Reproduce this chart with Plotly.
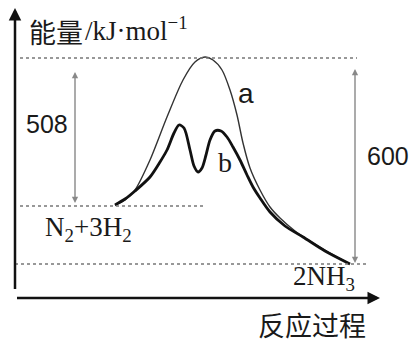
import plotly.graph_objects as go

W, H = 411, 343

# ---- data (chart units: x = reaction progress, y = energy level, schematic) ----
curve_a_x = [115, 125, 135, 150, 167, 183, 195, 205, 213, 222, 230, 237, 243, 250, 260, 270, 280, 295, 310, 330, 350]
curve_a_y = [138, 143, 153, 183, 226, 263, 281, 286, 283, 273, 253, 228, 200, 175, 153, 136, 125, 112, 102, 90, 79]

curve_b_x = [115, 125, 135, 150, 160, 167, 174, 179, 184, 190, 194, 198, 202, 206, 210, 215, 221, 227, 233, 240,
             247, 253, 260, 270, 285, 303, 325, 350]
curve_b_y = [138, 144, 152, 166, 181, 193, 210, 218, 215, 193, 177, 171, 175, 188, 203, 212, 212, 206, 196, 183,
             168, 156, 145, 131, 117, 106, 92, 79]

E_peak = 285       # transition state level (curve a)
E_react = 137      # N2 + 3H2 level
E_prod = 79        # 2NH3 level
x_react_start = 20
x_react_end = 205
x_peak_line_end = 357
x_prod_line_end = 366
x_508 = 75
x_600 = 355

label_508 = "508"
label_600 = "600"
label_a = "a"
label_b = "b"
label_react = "N<sub>2</sub>+3H<sub>2</sub>"
label_prod = "2NH<sub>3</sub>"
y_title_cn = "能量"
y_title_unit = "/kJ·mol<sup>−1</sup>"
x_title = "反应过程"

fig = go.Figure()
fig.add_trace(go.Scatter(x=curve_a_x, y=curve_a_y, mode="lines",
                         line=dict(color="#333333", width=1.4, shape="spline", smoothing=0.8),
                         hoverinfo="skip"))
fig.add_trace(go.Scatter(x=curve_b_x, y=curve_b_y, mode="lines",
                         line=dict(color="#111111", width=2.8, shape="spline", smoothing=0.8),
                         hoverinfo="skip"))

dot = dict(color="#777777", width=1.6, dash="dot")
shapes = [
    dict(type="line", x0=x_react_start, x1=x_peak_line_end, y0=E_peak, y1=E_peak, line=dot),
    dict(type="line", x0=x_react_start, x1=x_react_end, y0=E_react, y1=E_react, line=dot),
    dict(type="line", x0=15, x1=x_prod_line_end, y0=E_prod, y1=E_prod, line=dot),
]

ann = []
# axes as arrows
ann.append(dict(x=15, y=H - 8, ax=15, ay=H - 299, xref="x", yref="y", axref="x", ayref="y",
                showarrow=True, arrowhead=2, arrowsize=1.0, arrowwidth=2.5, arrowcolor="#111", text=" "))
ann.append(dict(x=380, y=H - 298, ax=14, ay=H - 298, xref="x", yref="y", axref="x", ayref="y",
                showarrow=True, arrowhead=2, arrowsize=1.0, arrowwidth=2.5, arrowcolor="#111", text=" "))
# 508 and 600 double arrows
ann.append(dict(x=x_508, y=E_react + 3, ax=x_508, ay=E_peak - 4, xref="x", yref="y", axref="x", ayref="y",
                showarrow=True, arrowhead=2, startarrowhead=2, arrowside="end+start",
                arrowsize=0.9, arrowwidth=1.4, arrowcolor="#888", text=" "))
ann.append(dict(x=x_600, y=E_prod + 1, ax=x_600, ay=E_peak - 1, xref="x", yref="y", axref="x", ayref="y",
                showarrow=True, arrowhead=2, startarrowhead=2, arrowside="end+start",
                arrowsize=0.9, arrowwidth=1.4, arrowcolor="#888", text=" "))

serif = "Liberation Serif"
sans = "Liberation Sans"
cjk = "Noto Sans CJK SC"
def txt(x, y, t, fam, size, xanchor="center"):
    ann.append(dict(x=x, y=y, xref="x", yref="y", text=t, showarrow=False,
                    font=dict(family=fam, size=size, color="#1a1a1a"), xanchor=xanchor, yanchor="middle"))

txt(27, H - 31, y_title_cn, cjk, 27, "left")
txt(83, H - 29, y_title_unit, serif, 27, "left")
txt(47, H - 124, label_508, sans, 25)
txt(388, H - 156, label_600, sans, 25)
txt(246, H - 93, label_a, sans, 28)
txt(225, H - 162, label_b, serif, 28)
txt(88, H - 229, label_react, serif, 27)
txt(324, H - 278, label_prod, serif, 27)
txt(312, H - 324, x_title, cjk, 27)

fig.update_layout(
    width=W, height=H, margin=dict(l=0, r=0, t=0, b=0),
    paper_bgcolor="white", plot_bgcolor="white", showlegend=False,
    xaxis=dict(range=[0, W], visible=False, fixedrange=True),
    yaxis=dict(range=[0, H], visible=False, fixedrange=True),
    shapes=shapes, annotations=ann,
)
fig.write_html("out.html", config={"displayModeBar": False},
               post_script="document.body.style.margin='0';document.documentElement.style.overflow='hidden';")
